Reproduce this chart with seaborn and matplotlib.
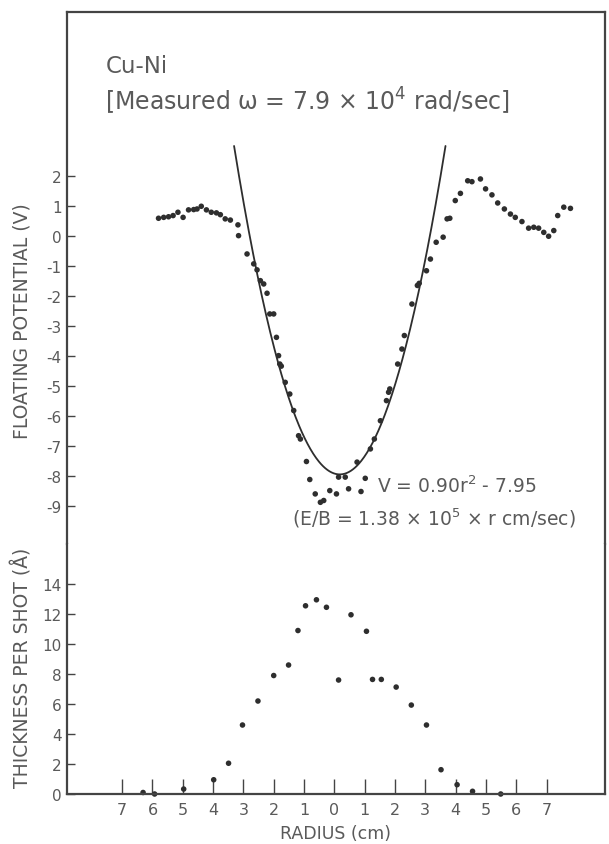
import numpy as np
import pandas as pd
import matplotlib
matplotlib.use("Agg")
import matplotlib.pyplot as plt
import seaborn as sns

# ---------------- data ----------------
# Floating potential (V) vs radius (cm)
pot_r = [-5.80, -5.63, -5.47, -5.32, -5.16, -4.99, -4.81, -4.64, -4.53, -4.39,
         -4.22, -4.06, -3.89, -3.76, -3.60, -3.43, -3.18, -3.16, -2.88, -2.66,
         -2.55, -2.44, -2.33, -2.22, -2.13, -2.00, -1.91, -1.84, -1.80, -1.75,
         -1.62, -1.47, -1.34, -1.18, -1.12, -0.92, -0.81, -0.63, -0.46, -0.35,
         -0.15, 0.07, 0.14, 0.36, 0.47, 0.88, 1.02, 0.75, 1.19, 1.32,
         1.52, 1.72, 1.79, 1.83, 2.09, 2.23, 2.31, 2.56, 2.74, 2.80,
         3.04, 3.17, 3.36, 3.59, 3.72, 3.81, 3.99, 4.16, 4.40, 4.54,
         4.82, 4.99, 5.20, 5.39, 5.61, 5.81, 5.97, 6.19, 6.41, 6.58,
         6.74, 6.91, 7.07, 7.24, 7.37, 7.57, 7.79]
pot_v = [0.59, 0.62, 0.64, 0.68, 0.79, 0.62, 0.87, 0.88, 0.90, 0.99,
         0.87, 0.79, 0.77, 0.71, 0.57, 0.53, 0.37, 0.01, -0.60, -0.93,
         -1.13, -1.49, -1.60, -1.91, -2.60, -2.60, -3.38, -3.99, -4.27, -4.34,
         -4.88, -5.27, -5.82, -6.66, -6.77, -7.52, -8.12, -8.60, -8.88, -8.82,
         -8.49, -8.60, -8.04, -8.04, -8.43, -8.52, -8.08, -7.54, -7.10, -6.77,
         -6.16, -5.49, -5.21, -5.10, -4.27, -3.77, -3.32, -2.27, -1.65, -1.58,
         -1.16, -0.77, -0.21, -0.04, 0.57, 0.59, 1.18, 1.42, 1.84, 1.81,
         1.90, 1.57, 1.37, 1.10, 0.90, 0.73, 0.62, 0.48, 0.26, 0.29,
         0.26, 0.12, -0.01, 0.18, 0.68, 0.96, 0.92]

# Thickness per shot (Å) vs radius (cm)
thk_r = [-6.31, -5.93, -4.97, -3.98, -3.49, -3.03, -2.52, -2.00, -1.51, -1.20,
         -0.95, -0.59, -0.26, 0.55, 1.06, 0.14, 1.26, 1.55, 2.04, 2.54,
         3.04, 3.52, 4.05, 4.56, 5.49]
thk_v = [0.10, 0.00, 0.33, 0.95, 2.05, 4.60, 6.20, 7.90, 8.60, 10.90,
         12.55, 12.95, 12.45, 11.95, 10.85, 7.60, 7.64, 7.64, 7.13, 5.93,
         4.60, 1.62, 0.62, 0.18, 0.00]

# fitted parabola V = a r^2 + c
fit_a = 0.90
fit_c = -7.95
fit_center = 0.18
fit_vmax = 3.0

x_ticks = [-7, -6, -5, -4, -3, -2, -1, 0, 1, 2, 3, 4, 5, 6, 7]
x_ticklabels = ["7", "6", "5", "4", "3", "2", "1", "0", "1", "2", "3", "4", "5", "6", "7"]
pot_ticks = [2, 1, 0, -1, -2, -3, -4, -5, -6, -7, -8, -9]
thk_ticks = [0, 2, 4, 6, 8, 10, 12, 14]

# ---------------- style ----------------
sns.set_style("ticks")
plt.rcParams["font.family"] = ["DejaVu Sans"]
TXT = "#5a5a5a"
INK = "#2e2e2e"
SP = "#444444"

W, H = 609, 845
fig = plt.figure(figsize=(W / 100, H / 100), dpi=100)

left_px, right_px = 67, 605
top_px, mid_px, bot_px = 13, 545, 795

def fx(px):
    return px / W

def fy(py):
    return 1 - py / H

ax1 = fig.add_axes([fx(left_px), fy(mid_px), fx(right_px - left_px), (mid_px - top_px) / H])
ax2 = fig.add_axes([fx(left_px), fy(bot_px), fx(right_px - left_px), (bot_px - mid_px) / H])

xlim = (-8.82, 8.93)

# upper panel
pot_df = pd.DataFrame({"r": pot_r, "V": pot_v})
sns.scatterplot(data=pot_df, x="r", y="V", ax=ax1, s=16, color=INK,
                edgecolor="none", linewidth=0, legend=False)
half = np.sqrt((fit_vmax - fit_c) / fit_a)
rr = np.linspace(fit_center - half, fit_center + half, 300)
fit_df = pd.DataFrame({"r": rr, "V": fit_a * (rr - fit_center) ** 2 + fit_c})
sns.lineplot(data=fit_df, x="r", y="V", ax=ax1, color=INK, linewidth=1.3,
             sort=False, estimator=None)
ax1.set_xlim(*xlim)
ax1.set_ylim(-10.27, 7.467)
ax1.set_yticks(pot_ticks)
ax1.set_yticklabels([str(t) for t in pot_ticks])
ax1.set_xticks([])
ax1.set_xlabel("")
ax1.set_ylabel("")
ax1.spines["bottom"].set_visible(False)
for s in ["top", "left", "right"]:
    ax1.spines[s].set_color(SP)
    ax1.spines[s].set_linewidth(1.6)
ax1.tick_params(axis="y", direction="in", length=6, width=1.0, color=SP,
                labelsize=11, labelcolor=TXT, pad=4)

ax1.text(-7.55, 5.68, "Cu-Ni", fontsize=16.5, color=TXT, ha="left", va="center")
ax1.text(-7.57, 4.52, "[Measured ω = 7.9 × 10$^{4}$ rad/sec]", fontsize=17,
         color=TXT, ha="left", va="center")
ax1.text(1.40, -8.32, r"V = 0.90r$^{2}$ - 7.95", fontsize=13.5, color=TXT,
         ha="left", va="center")
ax1.text(-1.41, -9.37, r"(E/B = 1.38 × 10$^{5}$ × r cm/sec)", fontsize=13.5,
         color=TXT, ha="left", va="center")

# lower panel
thk_df = pd.DataFrame({"r": thk_r, "T": thk_v})
sns.scatterplot(data=thk_df, x="r", y="T", ax=ax2, s=16, color=INK,
                edgecolor="none", linewidth=0, legend=False, clip_on=False)
ax2.set_xlim(*xlim)
ax2.set_ylim(0, 16.67)
ax2.set_yticks(thk_ticks)
ax2.set_yticklabels([str(t) for t in thk_ticks])
ax2.set_xticks(x_ticks)
ax2.set_xticklabels(x_ticklabels)
ax2.set_xlabel("RADIUS (cm)", fontsize=12.5, color=TXT, labelpad=5)
ax2.set_ylabel("")
ax2.spines["top"].set_visible(False)
for s in ["bottom", "left", "right"]:
    ax2.spines[s].set_color(SP)
    ax2.spines[s].set_linewidth(1.6)
ax2.tick_params(axis="y", direction="in", length=6, width=1.0, color=SP,
                labelsize=11, labelcolor=TXT, pad=4)
ax2.tick_params(axis="x", direction="in", length=11, width=1.0, color=SP,
                labelsize=11.5, labelcolor=TXT, pad=6)

fig.text(fx(22), fy(321), "FLOATING POTENTIAL (V)", rotation=90, fontsize=13.5,
         color=TXT, ha="center", va="center")
fig.text(fx(22), fy(668), "THICKNESS PER SHOT (Å)", rotation=90, fontsize=13.5,
         color=TXT, ha="center", va="center")

fig.savefig("out.png", dpi=100)
